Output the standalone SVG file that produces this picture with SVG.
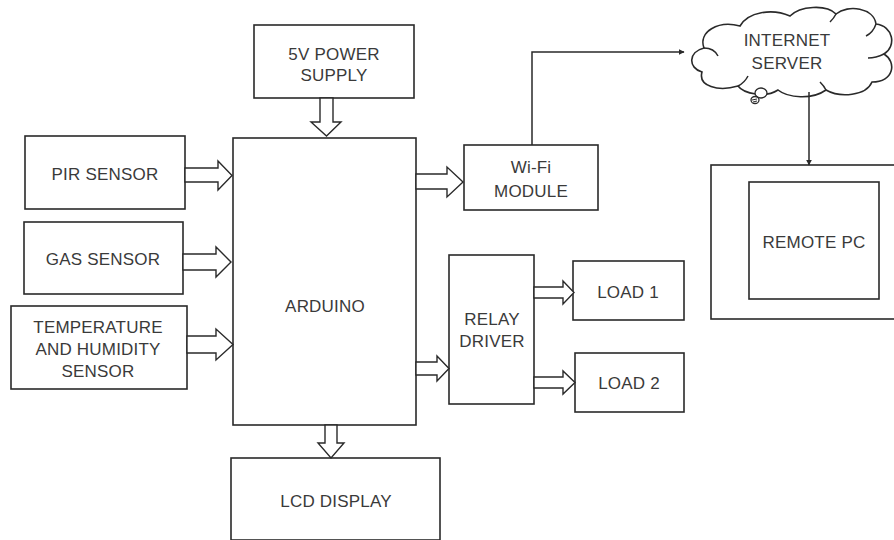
<svg xmlns="http://www.w3.org/2000/svg" width="894" height="540" viewBox="0 0 894 540">
<style>
.box{fill:#fff;stroke:#2a2a2a;stroke-width:1.6}
.harrow{fill:#fff;stroke:#2a2a2a;stroke-width:1.4;stroke-linejoin:miter}
.line{fill:none;stroke:#2a2a2a;stroke-width:1.5}
text{font-family:"Liberation Sans",Arial,sans-serif;font-size:17px;letter-spacing:0.2px;fill:#3a3a3a;text-anchor:middle}
</style>
<defs>
<marker id="tip" viewBox="0 0 10 10" refX="9" refY="5" markerWidth="6" markerHeight="6" markerUnits="userSpaceOnUse" orient="auto">
<path d="M0,0 L10,5 L0,10 z" fill="#2a2a2a"/>
</marker>
</defs>
<rect width="894" height="540" fill="#fff"/>

<g id="power">
<rect class="box" x="254" y="25" width="160" height="73"/>
<text x="334" y="60">5V POWER</text>
<text x="334" y="81">SUPPLY</text>
</g>
<g id="pir">
<rect class="box" x="25" y="136" width="160" height="73"/>
<text x="105" y="180">PIR SENSOR</text>
</g>
<g id="gas">
<rect class="box" x="24" y="222" width="159" height="72"/>
<text x="103" y="265">GAS SENSOR</text>
</g>
<g id="temp">
<rect class="box" x="11" y="306" width="176" height="83"/>
<text x="98" y="333">TEMPERATURE</text>
<text x="98" y="355">AND HUMIDITY</text>
<text x="98" y="377">SENSOR</text>
</g>
<g id="arduino">
<rect class="box" x="233" y="138" width="183" height="287"/>
<text x="325" y="312">ARDUINO</text>
</g>
<g id="lcd">
<rect class="box" x="231" y="458" width="209" height="82"/>
<text x="336" y="507">LCD DISPLAY</text>
</g>
<g id="wifi">
<rect class="box" x="464" y="145" width="134" height="65"/>
<text x="531" y="173">Wi-Fi</text>
<text x="531" y="197">MODULE</text>
</g>
<g id="relay">
<rect class="box" x="449" y="255" width="85" height="149"/>
<text x="492" y="325">RELAY</text>
<text x="492" y="347">DRIVER</text>
</g>
<g id="load1">
<rect class="box" x="573" y="261" width="111" height="59"/>
<text x="628" y="298">LOAD 1</text>
</g>
<g id="load2">
<rect class="box" x="575" y="353" width="109" height="59"/>
<text x="629" y="389">LOAD 2</text>
</g>
<g id="server">
<path class="box" d="M702,72 C688,68 688,52 704,48 C698,32 718,20 740,26 C748,12 772,8 790,16 C800,6 826,4 836,14 C848,4 874,8 876,24 C893,26 897,46 884,54 C897,62 894,82 872,82 C866,96 840,98 826,90 C812,100 788,98 778,90 C766,98 744,94 738,86 C718,92 698,86 702,72 Z"/>
<path class="line" d="M704,48 C712,48 716,52 718,56 M836,14 C834,18 832,20 830,22 M876,24 C874,30 870,34 866,36 M884,54 C880,56 874,58 868,58 M826,90 C824,86 822,84 820,82 M738,86 C742,84 746,80 748,76" stroke-width="1.2"/>
<ellipse cx="761" cy="93" rx="6" ry="5" fill="#fff" stroke="#2a2a2a" stroke-width="1.3"/>
<ellipse cx="755" cy="100" rx="4" ry="3.5" fill="#fff" stroke="#2a2a2a" stroke-width="1.3"/>
<path d="M752,100 L757,99 M753,102 L757,101" stroke="#2a2a2a" stroke-width="1"/>
<text x="787" y="46">INTERNET</text>
<text x="787" y="69">SERVER</text>
</g>
<g id="remote">
<rect class="box" x="711" y="165" width="190" height="154"/>
<rect class="box" x="749" y="182" width="130" height="117"/>
<text x="814" y="248">REMOTE PC</text>
</g>

<g id="connectors">
<polygon class="harrow" points="320,98 333,98 333,122 341,122 326.5,136 311,122 320,122"/>
<polygon class="harrow" points="185,168 218,168 218,161 232,175.5 218,190 218,182 185,182"/>
<polygon class="harrow" points="183,254 216,254 216,247 231,262 216,277 216,270 183,270"/>
<polygon class="harrow" points="187,336 216,336 216,329 233,344.5 216,360 216,353 187,353"/>
<polygon class="harrow" points="416,174 447,174 447,167 463,182 447,197 447,189 416,189"/>
<polygon class="harrow" points="416,362 437,362 437,356 449,368.5 437,381 437,375 416,375"/>
<polygon class="harrow" points="534,287 563,287 563,281 574,292.5 563,304 563,298 534,298"/>
<polygon class="harrow" points="534,377 563,377 563,371 575,382.5 563,394 563,388 534,388"/>
<polygon class="harrow" points="325,425 337,425 337,443 344,443 331,458 318,443 325,443"/>
<path class="line" d="M532,145 V52 H684" marker-end="url(#tip)"/>
<path class="line" d="M809,92 V165" marker-end="url(#tip)"/>
</g>
</svg>
